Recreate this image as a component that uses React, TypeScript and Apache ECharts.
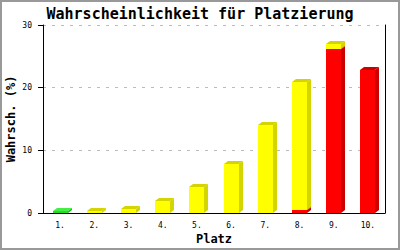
import React, { useEffect, useRef } from "react";
import * as echarts from "echarts";

const categories = ["1.", "2.", "3.", "4.", "5.", "6.", "7.", "8.", "9.", "10."];
const redValues = [0, 0, 0, 0, 0, 0, 0, 0.5, 26.2, 22.8];
const yellowValues = [0, 0.25, 0.65, 1.9, 4.1, 7.8, 14.0, 20.4, 0.8, 0];
const greenValues = [0.25, 0, 0, 0, 0, 0, 0, 0, 0, 0];
const yTicks = { min: 0, max: 30, interval: 10 };

const MONO = "'DejaVu Sans Mono', monospace";

function segData(values: number[], bases: number[]) {
  return values.map((v, i) => [i, bases[i], bases[i] + v]);
}

function makeRender(front: string, side: string, top: string) {
  return (params: any, api: any) => {
    const i = api.value(0);
    const base = api.value(1);
    const topV = api.value(2);
    if (topV - base <= 0) return { type: "group", children: [] };
    const p0 = api.coord([i, base]);
    const p1 = api.coord([i, topV]);
    const w = 15;
    const dx = 4;
    const dy = 3;
    const xl = Math.round(p0[0] - w / 2);
    const xr = xl + w;
    const yb = Math.round(p0[1]);
    const yt = Math.round(p1[1]);
    return {
      type: "group",
      children: [
        {
          type: "polygon",
          shape: { points: [[xr, yt], [xr + dx, yt - dy], [xr + dx, yb - dy], [xr, yb]] },
          style: { fill: side },
        },
        {
          type: "polygon",
          shape: { points: [[xl, yt], [xl + dx, yt - dy], [xr + dx, yt - dy], [xr, yt]] },
          style: { fill: top },
        },
        {
          type: "rect",
          shape: { x: xl, y: yt, width: w, height: Math.max(yb - yt, 0) },
          style: { fill: front },
        },
      ],
    };
  };
}

export default function App() {
  const ref = useRef<HTMLDivElement>(null);
  useEffect(() => {
    if (!ref.current) return;
    const chart = echarts.init(ref.current, null, { renderer: "svg" });
    const zeros = categories.map(() => 0);
    const redBase = zeros;
    const yellowBase = redValues.map((v, i) => redBase[i] + v);
    const greenBase = yellowValues.map((v, i) => yellowBase[i] + v);
    chart.setOption({
      animation: false,
      backgroundColor: "#ffffff",
      title: {
        text: "Wahrscheinlichkeit für Platzierung",
        left: "center",
        top: 1,
        textStyle: { fontFamily: MONO, fontSize: 15, fontWeight: "bold", color: "#000" },
      },
      grid: { left: 43, right: 15, top: 25, bottom: 37, outerBoundsMode: "none", containLabel: false },
      xAxis: {
        type: "category",
        data: categories,
        name: "Platz",
        nameLocation: "middle",
        nameGap: 20,
        nameMoveOverlap: false,
        nameTextStyle: { fontFamily: MONO, fontSize: 12, fontWeight: "bold", color: "#000" },
        axisLine: { show: true, lineStyle: { color: "#000", width: 1 } },
        axisTick: { show: false },
        axisLabel: { fontFamily: MONO, fontSize: 8, color: "#000", margin: 8 },
        splitLine: { show: false },
      },
      yAxis: [
        {
          type: "value",
          min: yTicks.min,
          max: yTicks.max,
          interval: yTicks.interval,
          name: "Wahrsch. (%)",
          nameLocation: "middle",
          nameGap: 26,
          nameMoveOverlap: false,
          nameTextStyle: { fontFamily: MONO, fontSize: 12, fontWeight: "bold", color: "#000" },
          axisLine: { show: true, lineStyle: { color: "#000", width: 1 } },
          axisTick: { show: true, length: 5, lineStyle: { color: "#000" } },
          axisLabel: { fontFamily: MONO, fontSize: 8, color: "#000", margin: 11 },
          splitLine: { show: true, lineStyle: { color: "#bbbbbb", type: [3, 6] } },
        },
        {
          type: "value",
          min: yTicks.min,
          max: yTicks.max,
          interval: yTicks.interval,
          position: "right",
          axisLine: { show: true, lineStyle: { color: "#000", width: 1 } },
          axisTick: { show: false },
          axisLabel: { show: false },
          splitLine: { show: false },
        },
      ],
      series: [
        {
          type: "custom",
          name: "red",
          renderItem: makeRender("#ff0000", "#cc0000", "#cc0000"),
          encode: { x: 0, y: [1, 2] },
          data: segData(redValues, redBase),
        },
        {
          type: "custom",
          name: "yellow",
          renderItem: makeRender("#ffff00", "#d4d400", "#d4d400"),
          encode: { x: 0, y: [1, 2] },
          data: segData(yellowValues, yellowBase),
        },
        {
          type: "custom",
          name: "green",
          renderItem: makeRender("#22dd22", "#11bb11", "#44ee44"),
          encode: { x: 0, y: [1, 2] },
          data: segData(greenValues, greenBase),
        },
      ],
    });
    return () => chart.dispose();
  }, []);
  return (
    <div style={{ position: "fixed", left: 0, top: 0, width: 400, height: 250 }}>
      <div ref={ref} style={{ position: "absolute", left: 0, top: 0, width: 400, height: 250 }} />
      <div
        style={{
          position: "absolute",
          left: 0,
          top: 0,
          width: 400,
          height: 250,
          boxSizing: "border-box",
          border: "2px solid #999",
          pointerEvents: "none",
        }}
      />
    </div>
  );
}
